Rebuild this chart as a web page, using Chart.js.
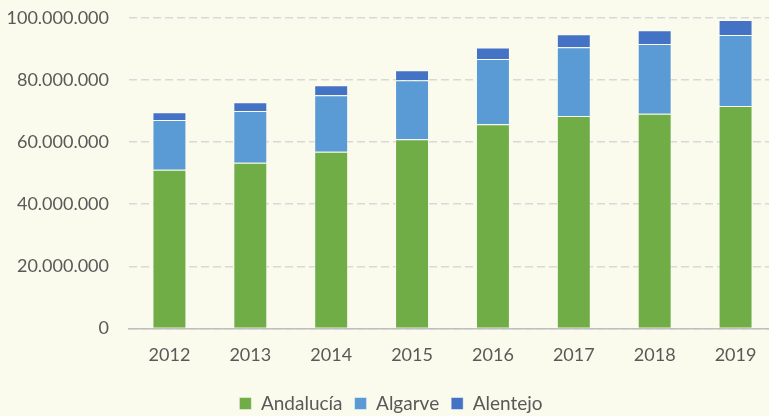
<!DOCTYPE html>
<html>
<head>
<meta charset="utf-8">
<script src="https://cdn.jsdelivr.net/npm/chart.js@4"></script>
<style>
  html, body { margin:0; padding:0; background:#FAFBEC; overflow:hidden; }
  #wrap { width:776px; height:436px; position:absolute; left:0; top:-13px; }
</style>
</head>
<body>
<div id="wrap"><canvas id="c"></canvas></div>
<script>
const categories = ['2012','2013','2014','2015','2016','2017','2018','2019'];
const andalucia = [51100000, 53300000, 56900000, 60900000, 65700000, 68400000, 69100000, 71600000];
const algarve   = [16000000, 16700000, 18200000, 19000000, 21000000, 22100000, 22500000, 22900000];
const alentejo  = [ 2500000,  2800000,  3200000,  3200000,  3700000,  4200000,  4400000,  4800000];
const seriesNames = ['Andalucía', 'Algarve', 'Alentejo'];
const yTicks = [0, 20000000, 40000000, 60000000, 80000000, 100000000];

function fmt(v){ return String(v).replace(/\B(?=(\d{3})+(?!\d))/g, '.'); }

const FONT = 'Lato, "Open Sans", sans-serif';
const TXT = '#595959';

new Chart(document.getElementById('c'), {
  type: 'bar',
  data: {
    labels: categories,
    datasets: [
      { label: seriesNames[0], data: andalucia, backgroundColor: '#70AD47', borderColor: 'rgba(255,255,255,0.45)', borderWidth: 1 },
      { label: seriesNames[1], data: algarve,   backgroundColor: '#5B9BD5', borderColor: 'rgba(255,255,255,0.45)', borderWidth: 1 },
      { label: seriesNames[2], data: alentejo,  backgroundColor: '#4472C4', borderColor: 'rgba(255,255,255,0.45)', borderWidth: 1 }
    ]
  },
  options: {
    responsive: true,
    maintainAspectRatio: false,
    animation: false,
    layout: { padding: { top: 0, left: 6, right: 0, bottom: 0 } },
    datasets: { bar: { categoryPercentage: 1, barPercentage: 0.42 } },
    plugins: {
      tooltip: { enabled: false },
      legend: {
        position: 'bottom',
        labels: {
          boxWidth: 12, boxHeight: 12, padding: 12,
          color: TXT, font: { family: FONT, size: 19 }
        }
      }
    },
    scales: {
      x: {
        stacked: true,
        grid: { display: false, drawTicks: false },
        border: { display: true, color: '#BFBFBF', width: 1.5 },
        ticks: { color: TXT, font: { family: FONT, size: 18 }, padding: 16 }
      },
      y: {
        stacked: true,
        min: 0, max: 100000000,
        afterBuildTicks: (axis) => { axis.ticks = yTicks.map(v => ({ value: v })); },
        afterFit: (axis) => { axis.width = 123; },
        grid: { color: '#D9D9D9', lineWidth: 1.5, drawTicks: false },
        border: { display: false, dash: [8, 4] },
        ticks: { color: TXT, font: { family: FONT, size: 18 }, padding: 20, callback: (v) => fmt(v) }
      }
    }
  }
});
</script>
</body>
</html>
